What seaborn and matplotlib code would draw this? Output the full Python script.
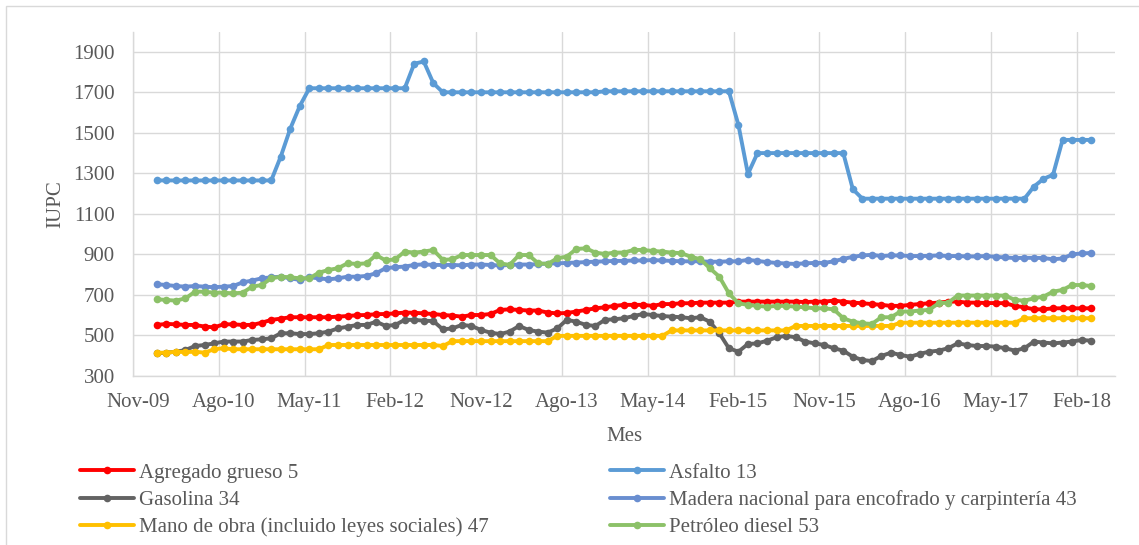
import numpy as np
import pandas as pd
import matplotlib
matplotlib.use("Agg")
import matplotlib.pyplot as plt
import seaborn as sns
from matplotlib.patches import Rectangle

# Monthly categories Nov-09 .. May-18 (103 slots); data starts at Jan-10 (slot 2)
n_slots = 103
start_slot = 2
tick_pos = [0, 9, 18, 27, 36, 45, 54, 63, 72, 81, 90, 99]
tick_labels = ['Nov-09', 'Ago-10', 'May-11', 'Feb-12', 'Nov-12', 'Ago-13',
               'May-14', 'Feb-15', 'Nov-15', 'Ago-16', 'May-17', 'Feb-18']

agregado = [552, 557, 555, 552, 552, 544, 540, 555, 555, 552, 552, 563, 577, 583, 590,
            590, 590, 590, 590, 593, 596, 600, 601, 605, 606, 609, 613, 612, 609, 606,
            601, 598, 593, 601, 601, 606, 626, 629, 626, 623, 623, 613, 609, 611, 618,
            626, 634, 639, 646, 651, 651, 651, 646, 655, 655, 659, 659, 662, 662, 662,
            662, 667, 667, 667, 667, 667, 667, 667, 665, 667, 667, 672, 667, 662, 659,
            655, 651, 646, 646, 651, 655, 659, 662, 667, 667, 662, 662, 660, 660, 659,
            646, 639, 629, 629, 634, 634, 634, 634, 634]

asfalto = ([1265] * 13 + [1383, 1521, 1633] + [1720] * 11 + [1841, 1852, 1745]
           + [1700] * 17 + [1705] * 14 + [1539, 1297] + [1400] * 10 + [1222]
           + [1175] * 18 + [1235, 1273, 1293] + [1465] * 4)

gasolina = [412, 415, 420, 428, 448, 453, 461, 470, 470, 470, 478, 481, 486, 511, 511,
            507, 507, 511, 519, 535, 543, 552, 552, 568, 547, 552, 577, 577, 573, 571,
            530, 535, 552, 547, 527, 514, 507, 519, 547, 527, 519, 514, 535, 577, 568,
            552, 547, 577, 580, 585, 596, 606, 601, 596, 593, 590, 585, 590, 568, 511,
            437, 420, 458, 461, 474, 491, 498, 491, 470, 461, 453, 437, 425, 395, 379,
            374, 399, 415, 404, 395, 409, 420, 425, 437, 461, 453, 448, 448, 445, 437,
            425, 437, 470, 465, 461, 465, 470, 478, 474]

madera = [753, 749, 744, 741, 744, 741, 738, 741, 744, 762, 771, 782, 787, 790, 782,
          774, 787, 782, 777, 782, 790, 790, 794, 807, 832, 837, 840, 848, 851, 848,
          848, 848, 846, 850, 850, 848, 845, 848, 850, 850, 852, 855, 856, 858, 860,
          862, 864, 866, 868, 868, 870, 870, 872, 870, 868, 866, 866, 866, 864, 864,
          866, 866, 873, 868, 862, 858, 855, 853, 856, 858, 858, 866, 878, 888, 895,
          898, 892, 895, 895, 892, 892, 893, 895, 892, 892, 890, 890, 892, 888, 885,
          882, 883, 883, 882, 876, 880, 900, 905, 907]

mano_obra = ([415, 415, 420, 418, 420, 415, 432, 437] + [432] * 10 + [453] * 12 + [448]
             + [472] * 11 + [498] * 12 + [525] * 13 + [547] * 11 + [563] * 13 + [585] * 8)

diesel = [679, 675, 672, 683, 716, 716, 711, 711, 708, 711, 741, 749, 782, 790, 787,
          782, 782, 810, 823, 832, 856, 853, 856, 897, 870, 876, 914, 909, 914, 922,
          873, 876, 897, 897, 897, 897, 856, 848, 897, 897, 856, 853, 881, 889, 927,
          930, 909, 902, 909, 909, 922, 922, 917, 914, 909, 906, 889, 876, 832, 790,
          708, 659, 651, 646, 642, 646, 646, 642, 639, 634, 634, 629, 585, 568, 560,
          557, 590, 590, 618, 618, 623, 626, 659, 662, 697, 697, 697, 697, 697, 697,
          675, 672, 683, 692, 716, 725, 749, 749, 744]

series_names = ['Agregado grueso 5', 'Asfalto 13', 'Gasolina 34',
                'Madera nacional para encofrado y carpintería 43',
                'Mano de obra (incluido leyes sociales) 47', 'Petróleo diesel 53']
series_values = [agregado, asfalto, gasolina, madera, mano_obra, diesel]
series_colors = ['#FF0000', '#5B9BD5', '#636363', '#698ED0', '#FFC000', '#8CC168']

sns.set_theme(style="white")
plt.rcParams['font.family'] = ['Liberation Serif', 'DejaVu Serif']
text_color = '#595959'
grid_color = '#D9D9D9'
fs = 15

W, H = 1139, 545
fig = plt.figure(figsize=(W / 100, H / 100), dpi=100)
left, right, top, bottom = 133, 1115, 31.5, 376
ax = fig.add_axes([left / W, 1 - bottom / H, (right - left) / W, (bottom - top) / H])

for name, vals, col in zip(series_names, series_values, series_colors):
    x = np.arange(start_slot, start_slot + len(vals))
    sns.lineplot(x=x, y=vals, ax=ax, color=col, marker='o', markersize=5.5,
                 markeredgewidth=0, linewidth=2.8, label=name, errorbar=None,
                 legend=False)

ax.set_xlim(-0.5, n_slots - 0.5)
ax.set_ylim(300, 2000)
ax.set_yticks(np.arange(300, 2000, 200))
ax.set_xticks(tick_pos)
ax.set_xticklabels(tick_labels)
ax.set_xticks(np.arange(-0.5, n_slots - 1, 9), minor=True)
ax.grid(False)
ax.grid(True, which='minor', axis='x', color=grid_color, linewidth=1.0)
ax.grid(True, which='major', axis='y', color=grid_color, linewidth=1.0)
ax.tick_params(axis='both', which='both', length=0, labelsize=fs, colors=text_color)
ax.tick_params(axis='x', pad=12)
ax.tick_params(axis='y', pad=13)
for side in ['top', 'right']:
    ax.spines[side].set_visible(False)
for side in ['left', 'bottom']:
    ax.spines[side].set_color(grid_color)
    ax.spines[side].set_linewidth(1.0)
ax.set_xlabel('Mes', fontsize=fs, color=text_color, labelpad=11)
ax.set_ylabel('IUPC', fontsize=fs, color=text_color, labelpad=6)

handles = ax.get_lines()[:len(series_names)]
leg_kw = dict(loc='upper left', frameon=False, fontsize=fs, handlelength=2.6,
              handletextpad=0.25, labelspacing=0.37, borderpad=0, borderaxespad=0,
              labelcolor=text_color)
fig.legend([handles[0], handles[2], handles[4]],
           [series_names[0], series_names[2], series_names[4]],
           bbox_to_anchor=(80 / W, 1 - 463 / H), **leg_kw)
fig.legend([handles[1], handles[3], handles[5]],
           [series_names[1], series_names[3], series_names[5]],
           bbox_to_anchor=(610 / W, 1 - 463 / H), **leg_kw)

fig.patches.append(Rectangle((6 / W, -0.1), (W + 10) / W, 1.1 - 5.7 / H,
                             transform=fig.transFigure, fill=False,
                             edgecolor=grid_color, linewidth=1.0))

fig.savefig('out.png', dpi=100)
